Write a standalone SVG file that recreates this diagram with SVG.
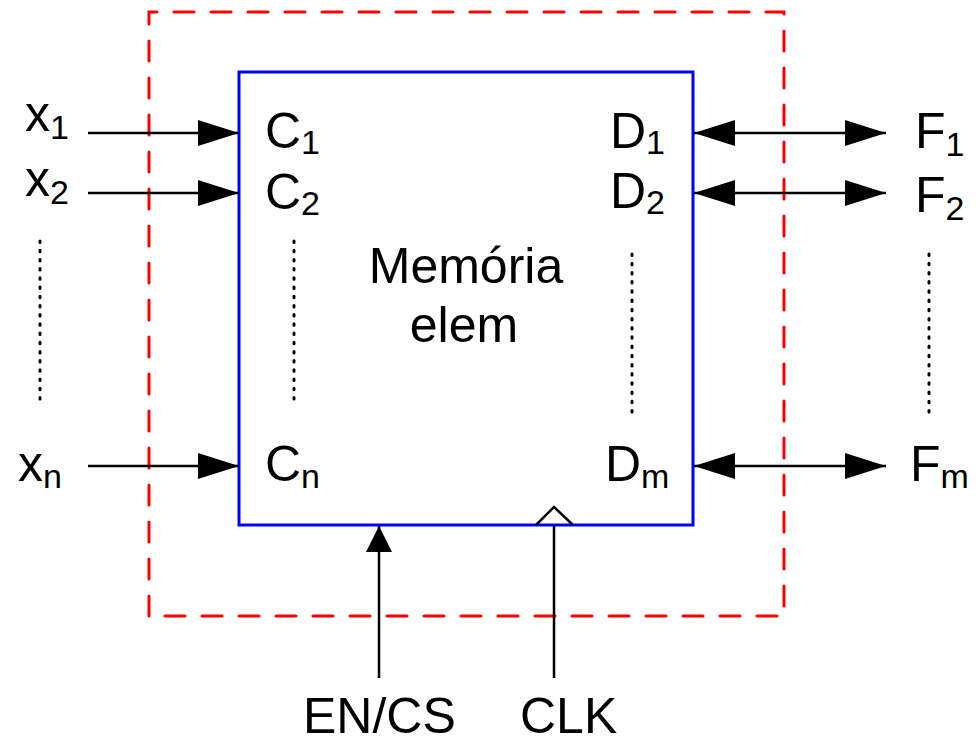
<svg xmlns="http://www.w3.org/2000/svg" width="980" height="738" viewBox="0 0 980 738">
<defs>
<style>
.lbl{font-family:"Liberation Sans",Arial,sans-serif;font-size:50px;fill:#000}
.sub{font-size:34px}
.wire{stroke:#000;stroke-width:2.5;fill:none}
.dots{stroke:#000;stroke-width:3;stroke-linecap:round;stroke-dasharray:1.5 7.7;fill:none}
</style>
<marker id="ah" viewBox="0 0 41 26" refX="41" refY="13" markerWidth="41" markerHeight="26" markerUnits="userSpaceOnUse" orient="auto-start-reverse"><path d="M0,0 L41,13 L0,26 z" fill="#000"/></marker>
<marker id="ahv" viewBox="0 0 26 26" refX="26" refY="13" markerWidth="26" markerHeight="26" markerUnits="userSpaceOnUse" orient="auto"><path d="M0,0 L26,13 L0,26 z" fill="#000"/></marker>
</defs>
<rect width="980" height="738" fill="#fff"/>
<g id="boundary">
<path d="M149,616 L149,12 L784,12 L784,616 Z" fill="none" stroke="#FF0000" stroke-width="3" stroke-linecap="round" stroke-dasharray="20 17"/>
</g>
<g id="memoria">
<rect x="239" y="72" width="454" height="453" fill="none" stroke="#0000FF" stroke-width="3"/>
<polyline points="536,525 554,507 573,525" class="wire"/>
<text class="lbl" x="466" y="283" text-anchor="middle">Memória</text>
<text class="lbl" x="464" y="342" text-anchor="middle">elem</text>
<text class="lbl" x="265" y="148">C<tspan class="sub" dy="6">1</tspan></text>
<text class="lbl" x="265" y="209">C<tspan class="sub" dy="6">2</tspan></text>
<text class="lbl" x="265" y="481">C<tspan class="sub" dy="7">n</tspan></text>
<text class="lbl" x="610" y="148">D<tspan class="sub" dy="6">1</tspan></text>
<text class="lbl" x="610" y="208">D<tspan class="sub" dy="6">2</tspan></text>
<text class="lbl" x="605" y="481">D<tspan class="sub" dy="7">m</tspan></text>
<path class="dots" d="M294,241 L294,402"/>
<path class="dots" d="M632,254 L632,413"/>
</g>
<g id="inputs">
<text class="lbl" x="25" y="131">x<tspan class="sub" dy="8">1</tspan></text>
<text class="lbl" x="25" y="196">x<tspan class="sub" dy="8">2</tspan></text>
<text class="lbl" x="18" y="481">x<tspan class="sub" dy="7">n</tspan></text>
<path class="dots" d="M40,241 L40,402"/>
</g>
<g id="outputs">
<text class="lbl" x="915" y="148">F<tspan class="sub" dy="8">1</tspan></text>
<text class="lbl" x="915" y="212">F<tspan class="sub" dy="8">2</tspan></text>
<text class="lbl" x="910" y="481">F<tspan class="sub" dy="7">m</tspan></text>
<path class="dots" d="M929,254 L929,413"/>
</g>
<g id="control">
<text class="lbl" x="303" y="733">EN/CS</text>
<text class="lbl" x="520" y="733">CLK</text>
</g>
<g id="connectors">
<line class="wire" x1="88" y1="133" x2="239" y2="133" marker-end="url(#ah)"/>
<line class="wire" x1="88" y1="193" x2="239" y2="193" marker-end="url(#ah)"/>
<line class="wire" x1="88" y1="466" x2="239" y2="466" marker-end="url(#ah)"/>
<line class="wire" x1="694" y1="133" x2="886" y2="133" marker-start="url(#ah)" marker-end="url(#ah)"/>
<line class="wire" x1="694" y1="193" x2="886" y2="193" marker-start="url(#ah)" marker-end="url(#ah)"/>
<line class="wire" x1="694" y1="466" x2="886" y2="466" marker-start="url(#ah)" marker-end="url(#ah)"/>
<line class="wire" x1="379" y1="678" x2="379" y2="526" marker-end="url(#ahv)"/>
<line class="wire" x1="554" y1="678" x2="554" y2="525"/>
</g>
</svg>
